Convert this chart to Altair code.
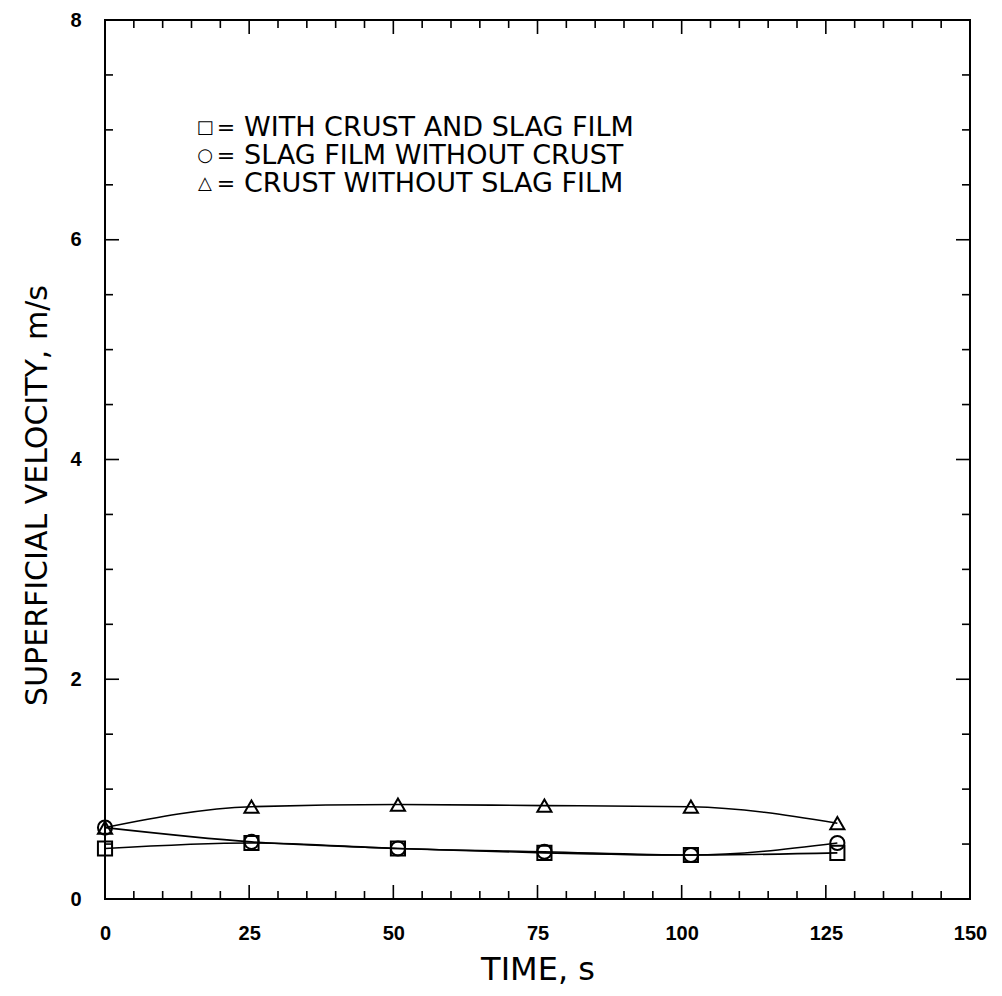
import altair as alt
import pandas as pd

# ---- data ----
time_s = [0, 25.4, 50.8, 76.2, 101.6, 127]
crust_and_slag = [0.46, 0.51, 0.46, 0.42, 0.40, 0.42]      # squares
slag_no_crust = [0.65, 0.52, 0.46, 0.43, 0.40, 0.51]       # circles
crust_no_slag = [0.65, 0.84, 0.86, 0.85, 0.84, 0.69]       # triangles

series_names = ["WITH CRUST AND SLAG FILM", "SLAG FILM WITHOUT CRUST", "CRUST WITHOUT SLAG FILM"]
series_shapes = ["square", "circle", "triangle-up"]
legend_symbols = ["\u25a1", "\u25cb", "\u25b3"]

x_tick_labels = [0, 25, 50, 75, 100, 125, 150]
y_tick_labels = [0, 2, 4, 6, 8]
x_minor_ticks = list(range(0, 151, 5))
y_minor_ticks = [i * 0.5 for i in range(0, 17)]

W, H = 865, 879
FONT = "DejaVu Sans, Liberation Sans, sans-serif"

rows = []
for name, shape, vals in zip(series_names, series_shapes,
                             [crust_and_slag, slag_no_crust, crust_no_slag]):
    for t, v in zip(time_s, vals):
        rows.append({"series": name, "shape": shape, "time": t, "vel": v})
df = pd.DataFrame(rows)

xs = alt.Scale(domain=[0, 150], nice=False, zero=False)
ys = alt.Scale(domain=[0, 8], nice=False, zero=False)

xaxis = alt.Axis(values=x_tick_labels, ticks=False, domain=False, grid=False,
                 format="d", title="TIME, s", labelFontSize=20, labelFontWeight="bold",
                 labelPadding=24, labelFlush=False, labelFont="Liberation Sans",
                 titleFont=FONT, titleFontSize=32, titleFontWeight="normal",
                 titleX=W / 2, titleY=70, titleAlign="center", titleBaseline="middle",
                 labelColor="black", titleColor="black")
yaxis = alt.Axis(values=y_tick_labels, ticks=False, domain=False, grid=False,
                 format="d", title="SUPERFICIAL VELOCITY, m/s", labelFontSize=20,
                 labelFontWeight="bold", labelPadding=24, labelFlush=False,
                 labelFont="Liberation Sans",
                 titleFont=FONT, titleFontSize=30, titleFontWeight="normal",
                 titleX=-68, titleY=475, titleAngle=-90, titleAlign="center",
                 titleBaseline="middle", labelColor="black", titleColor="black")

base = alt.Chart(df)

lines = base.mark_line(color="black", strokeWidth=1.6, interpolate="monotone").encode(
    x=alt.X("time:Q", scale=xs, axis=xaxis),
    y=alt.Y("vel:Q", scale=ys, axis=yaxis),
    detail="series:N",
)

points = base.mark_point(color="black", filled=False, strokeWidth=2, size=200,
                         opacity=1).encode(
    x=alt.X("time:Q", scale=xs),
    y=alt.Y("vel:Q", scale=ys),
    shape=alt.Shape("shape:N", scale=None, legend=None),
)

layers = [lines, points]

# inward tick marks
xt = pd.DataFrame({"v": x_minor_ticks, "major": [v % 25 == 0 for v in x_minor_ticks]})
yt = pd.DataFrame({"v": y_minor_ticks, "major": [v % 2 == 0 for v in y_minor_ticks]})
for is_major, ln in [(False, 8), (True, 14)]:
    dx = alt.Chart(xt).transform_filter(alt.datum.major == is_major)
    layers.append(dx.mark_rule(color="black", strokeWidth=1.6).encode(
        x=alt.X("v:Q", scale=xs), y=alt.value(H), y2=alt.value(H - ln)))
    layers.append(dx.mark_rule(color="black", strokeWidth=1.6).encode(
        x=alt.X("v:Q", scale=xs), y=alt.value(0), y2=alt.value(ln)))
    dy = alt.Chart(yt).transform_filter(alt.datum.major == is_major)
    layers.append(dy.mark_rule(color="black", strokeWidth=1.6).encode(
        y=alt.Y("v:Q", scale=ys), x=alt.value(0), x2=alt.value(ln)))
    layers.append(dy.mark_rule(color="black", strokeWidth=1.6).encode(
        y=alt.Y("v:Q", scale=ys), x=alt.value(W), x2=alt.value(W - ln)))

# in-plot legend
for i, (sym, name) in enumerate(zip(legend_symbols, series_names)):
    ypix = 108 + i * 28
    layers.append(alt.Chart(pd.DataFrame({"t": [sym]})).mark_text(
        align="center", baseline="middle", fontSize=18, font="DejaVu Sans",
        color="black").encode(text="t:N", x=alt.value(100), y=alt.value(ypix)))
    layers.append(alt.Chart(pd.DataFrame({"t": ["="]})).mark_text(
        align="center", baseline="middle", fontSize=22, font="DejaVu Sans",
        color="black").encode(text="t:N", x=alt.value(121), y=alt.value(ypix)))
    layers.append(alt.Chart(pd.DataFrame({"t": [name]})).mark_text(
        align="left", baseline="middle", fontSize=27, font=FONT,
        color="black").encode(text="t:N", x=alt.value(139), y=alt.value(ypix)))

chart = alt.layer(*layers).properties(
    width=W, height=H,
    autosize=alt.AutoSizeParams(type="none"),
    padding={"left": 105, "top": 20, "right": 32, "bottom": 97},
    background="white",
).configure_view(stroke="black", strokeWidth=2)

chart.save("out.html", embed_options={"renderer": "svg", "actions": False})
